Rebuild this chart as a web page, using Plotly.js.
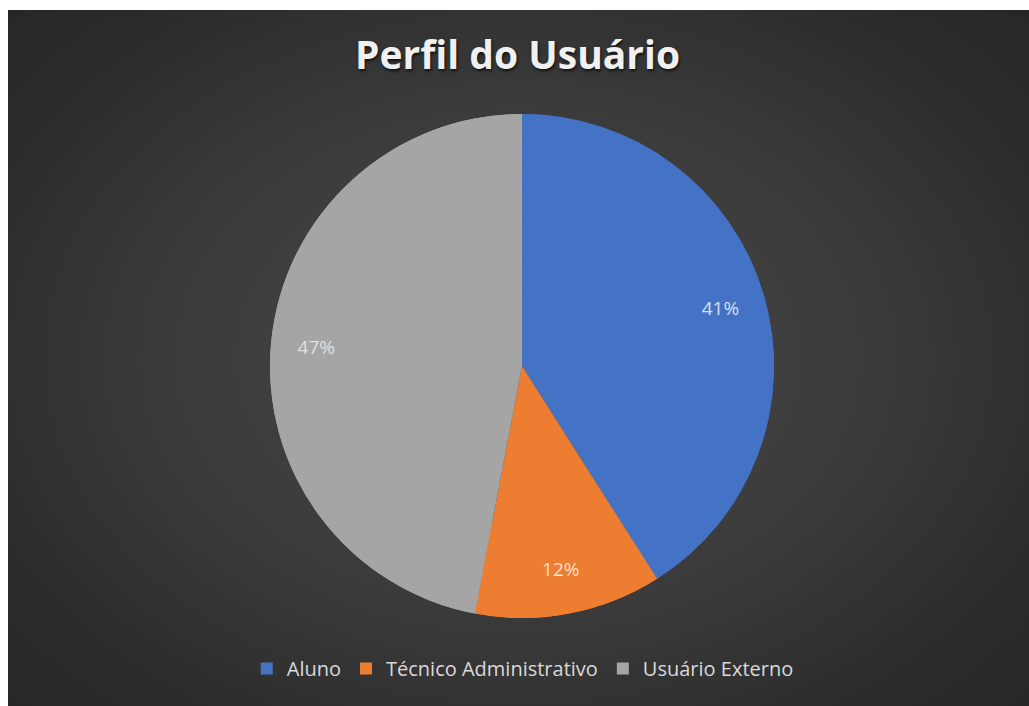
<!DOCTYPE html>
<html>
<head>
<meta charset="utf-8">
<script src="https://cdn.plot.ly/plotly-3.0.1.min.js"></script>
<style>
  html, body { margin: 0; padding: 0; background: #ffffff; width: 1029px; height: 706px; overflow: hidden; }
  #bg { position: absolute; left: 8px; top: 10px; width: 1021px; height: 696px;
        background: radial-gradient(ellipse 70% 75% at 50% 50%, #4a4a4a 0%, #3c3c3c 45%, #2a2a2a 85%, #262626 100%); }
  #chart { position: absolute; left: 0; top: 0; width: 1029px; height: 706px; }
</style>
</head>
<body>
<div id="bg"></div>
<div id="chart"></div>
<script>
const categories = ['Aluno', 'Técnico Administrativo', 'Usuário Externo'];
const shares = [41, 12, 47];
const sliceColors = ['#4472C4', '#ED7D31', '#A5A5A5'];
const labelColors = ['#d6e0f3', '#fbe0cc', '#e0e0e0'];
const chartTitle = 'Perfil do Usuário';

const dom = { x: [0.2624, 0.7522], y: [0.1246, 0.8385] };

const base = {
  type: 'pie',
  labels: categories,
  values: shares,
  sort: false,
  direction: 'clockwise',
  rotation: 0,
  domain: dom,
  marker: { colors: sliceColors, line: { width: 0 } },
  textinfo: 'none',
  hoverinfo: 'skip',
  showlegend: true
};

const ring = {
  type: 'pie',
  labels: categories,
  values: shares,
  sort: false,
  direction: 'clockwise',
  rotation: 0,
  domain: dom,
  hole: 0.64,
  marker: { colors: sliceColors, line: { width: 0 } },
  textinfo: 'percent',
  textposition: 'inside',
  insidetextorientation: 'horizontal',
  textfont: { family: 'Open Sans, sans-serif', size: 19, color: labelColors },
  hoverinfo: 'skip',
  showlegend: false
};

const layout = {
  width: 1029,
  height: 706,
  margin: { l: 0, r: 0, t: 0, b: 0 },
  paper_bgcolor: 'rgba(0,0,0,0)',
  plot_bgcolor: 'rgba(0,0,0,0)',
  title: {
    text: chartTitle,
    x: 0.503, xanchor: 'center',
    y: 0.921, yanchor: 'middle',
    font: { family: 'Open Sans, sans-serif', size: 39, color: '#f0f0f0', weight: 700, shadow: '1px 2px 3px #111' }
  },
  showlegend: true,
  legend: {
    orientation: 'h',
    x: 0.508, xanchor: 'center',
    y: 0.053, yanchor: 'middle',
    font: { family: 'Open Sans, sans-serif', size: 20, color: '#d9d9d9' },
    itemsizing: 'constant',
    itemwidth: 30,
    bgcolor: 'rgba(0,0,0,0)'
  }
};

Plotly.newPlot('chart', [base, ring], layout, { staticPlot: true, displayModeBar: false });
</script>
</body>
</html>
